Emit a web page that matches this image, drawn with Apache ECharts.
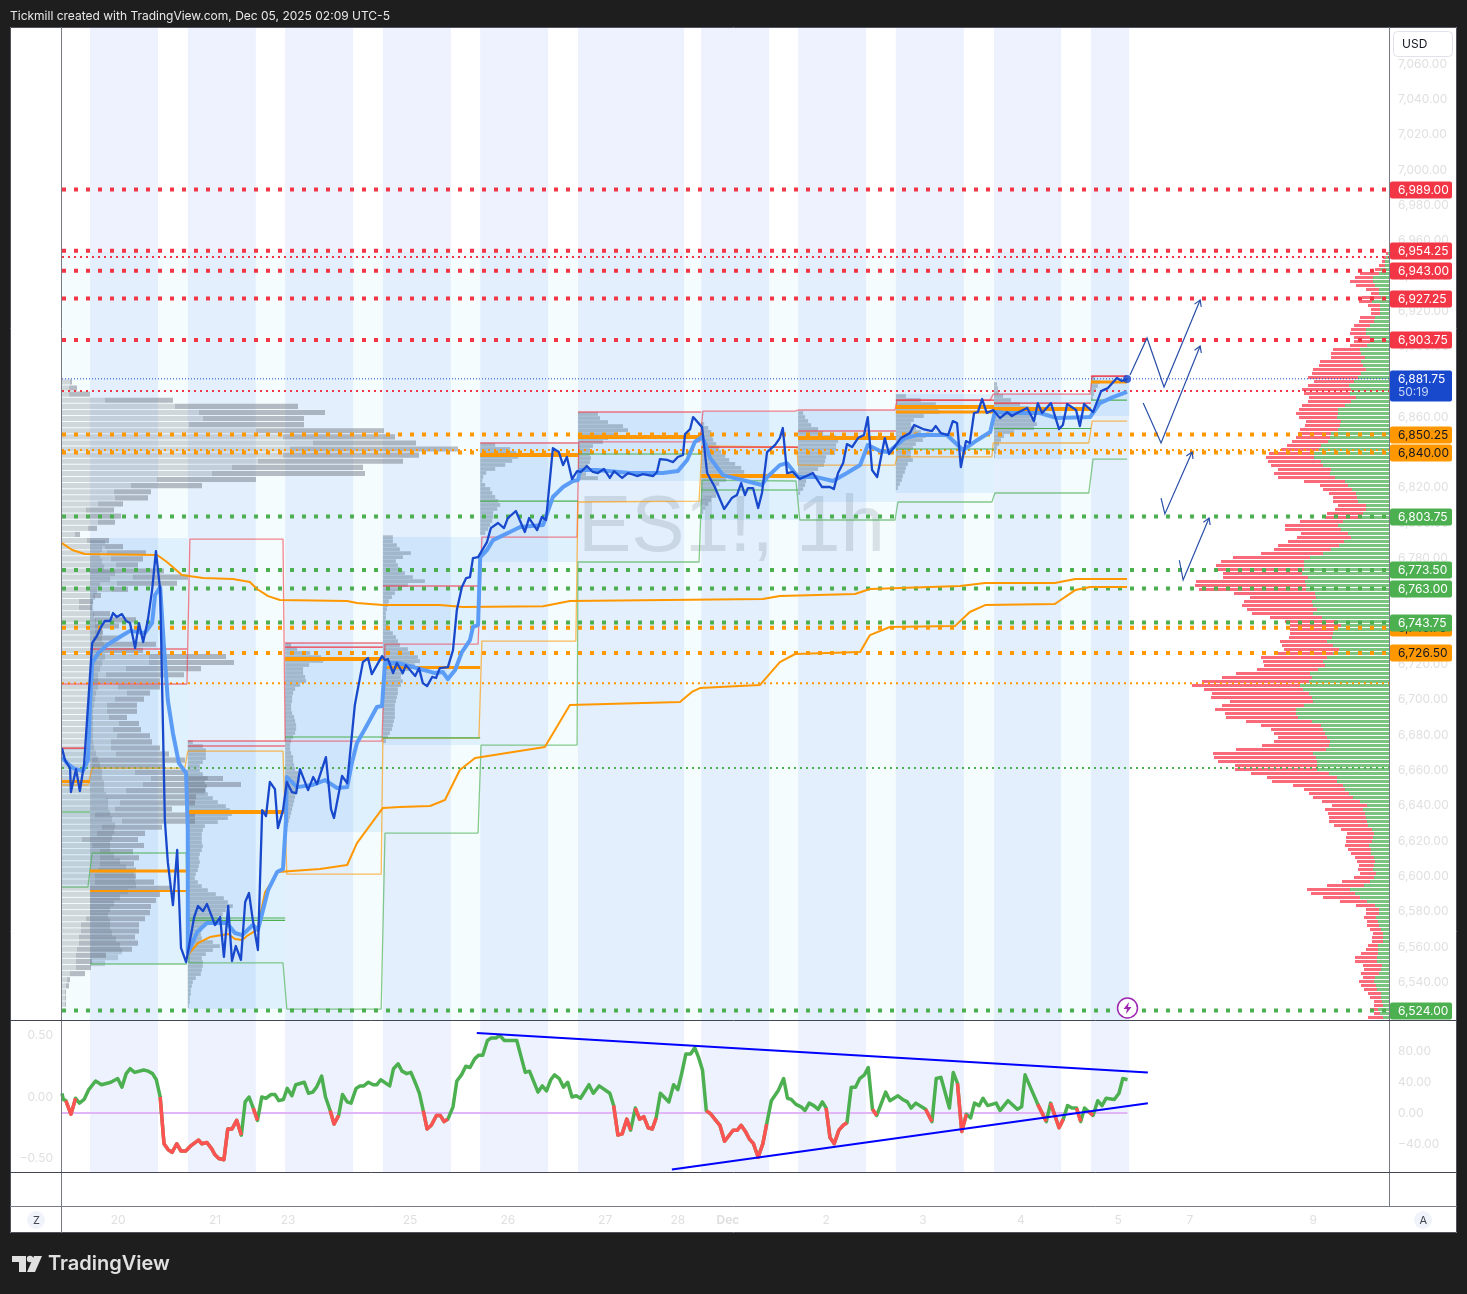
<!DOCTYPE html>
<html>
<head>
<meta charset="utf-8">
<style>
html,body{margin:0;padding:0;background:#1e1e1e;width:1467px;height:1294px;overflow:hidden}
#paper{position:absolute;left:10px;top:27px;width:1447px;height:1206px;background:#fff}
#chart{position:absolute;left:0;top:0;width:1467px;height:1294px}
</style>
<script src="https://cdn.jsdelivr.net/npm/echarts@6/dist/echarts.min.js"></script>
</head>
<body>
<div id="paper"></div>
<div id="chart"></div>
<script>
// ---------- axes ----------
const hourMax = 312.235;
const priceTop = 7081.03, priceBottom = 6518.6;
const priceTicks = [7060,7040,7020,7000,6980,6960,6940,6920,6900,6880,6860,6840,6820,6800,6780,6760,6740,6720,6700,6680,6660,6640,6620,6600,6580,6560,6540];
const dayTickHours = [13.2,36,53.2,81.9,104.9,127.8,144.9,156.7,179.8,202.6,225.6,248.5,265.4,294.4];
const dayTickNames = ['20','21','23','25','26','27','28','Dec','2','3','4','5','7','9'];
const oscLeftTicks = [0.5,0,-0.5];
const oscRightTicks = [80,40,0,-40];

// ---------- day-session shading [from,to] in hours ----------
const sessionBands = [[6.6,22.6],[29.6,45.6],[52.5,68.5],[75.5,91.5],[98.4,114.4],[121.4,146.4],[150.4,166.4],[173.2,189.2],[196.2,212.2],[219.3,235.1],[242.1,251.1]];
const washRange = [0,251.1,6953.6];
// value-area boxes [from,to,high,low]
const valueAreas = [[0,6.6,6672.6,6593.9],[6.6,29.6,6791.6,6550.3],[29.6,52.5,6676.6,6524.8],[52.5,75.5,6732.1,6625.1],[75.5,98.4,6792.1,6674.3],[98.4,121.4,6846,6778],[121.4,150.4,6863,6823.9],[150.4,173.2,6863.5,6801.8],[173.2,196.2,6864.1,6812],[196.2,219.3,6873.1,6817.1],[219.3,242.1,6873.7,6836.3],[242.1,251.1,6883.3,6860.7]];

// ---------- price ----------
const closePrice = [[0,6672.6],[.7,6665.8],[1.9,6661.3],[2.1,6647.7],[3.3,6660.7],[4.2,6648.3],[5.2,6663.6],[7.1,6732.1],[8.2,6736.1],[9.2,6741.2],[10.1,6744.6],[11.3,6744.6],[12,6749.1],[12.9,6746.8],[14.1,6748.5],[15.1,6744.6],[16,6743.4],[17.2,6729.3],[18.1,6743.4],[19.1,6732.7],[20.2,6745.1],[21.2,6762.1],[22.1,6784.2],[23.1,6762.1],[24.2,6631.8],[24.9,6608],[26.1,6583.7],[27.1,6614.9],[28,6559.4],[29.2,6551.4],[31.1,6576.9],[32,6583.2],[33.2,6580.3],[34.1,6584.3],[35.1,6578.1],[36,6572.4],[37.2,6576.9],[38.1,6554.3],[39.1,6583.2],[40,6552],[40.9,6560.5],[42.1,6552.6],[43.1,6585.4],[44,6590.5],[44.9,6575.2],[46.1,6558.2],[47.1,6637.5],[48,6634.1],[48.9,6653.4],[50.1,6649.4],[50.8,6627.3],[52,6637.5],[52.9,6653.4],[54.1,6647.7],[55.1,6647.1],[56,6660.7],[57.9,6648.8],[59.1,6656.2],[60,6652.2],[62.1,6667.5],[63.3,6638.1],[64,6633],[65.9,6656.8],[67.1,6652.8],[68.9,6697],[70.8,6721.3],[72,6723.6],[72.9,6714.5],[75.3,6724.7],[76,6722.5],[76.7,6723],[77.9,6715.1],[78.8,6720.8],[80.2,6715.1],[80.9,6719.6],[83.1,6713.4],[84,6717.9],[84.9,6709.4],[85.9,6707.7],[87.1,6712.9],[88,6712.3],[88.9,6717.9],[90.8,6718.5],[92,6728.1],[92.9,6750.8],[94.1,6763.8],[95.1,6768.9],[96,6769.5],[96.7,6780.2],[97.9,6780.8],[100,6789.3],[100.9,6797.2],[102.6,6800.1],[104,6797.2],[104.9,6802.9],[106.8,6806.9],[108.9,6795],[109.9,6802.9],[111.8,6796.1],[112.9,6803.5],[113.9,6801.8],[115.5,6842.5],[116.9,6840.3],[117.9,6832.9],[118.8,6837.5],[120,6825],[121.2,6829.5],[122.1,6829],[123.5,6832.4],[124.9,6829],[126.1,6828.4],[127.5,6830.7],[128.9,6825.6],[129.9,6829.5],[131.8,6825.6],[133.2,6828.4],[135.3,6826.7],[136.7,6827.8],[139.1,6826.7],[140,6829],[140.7,6836.3],[142.4,6835.8],[143.8,6834.6],[144.9,6837.5],[146.1,6838.6],[146.6,6850.5],[147.8,6853.3],[148.5,6860.1],[150.6,6854.4],[151.8,6828.4],[153.6,6820.5],[155.8,6808],[157.6,6814.2],[158.8,6815.9],[159.8,6822.7],[160.7,6815.9],[161.4,6819.9],[162.6,6819.9],[163.8,6808.6],[164.7,6817.1],[165.9,6840.3],[167.8,6844.3],[168.9,6848.2],[169.6,6853.9],[170.6,6828.4],[172,6829],[173.6,6825],[176.7,6828.4],[178.8,6820.5],[180.7,6820.5],[181.6,6819.3],[182.6,6828.4],[183.8,6834.1],[184.7,6844.8],[185.9,6843.1],[187.3,6848.2],[188.7,6849.9],[189.6,6860.1],[190.6,6830.1],[191.8,6826.1],[193.6,6848.2],[194.6,6839.2],[197.4,6848.2],[199.5,6851],[200.5,6855.6],[202.6,6853.3],[204.7,6852.2],[205.6,6855],[206.8,6851],[208.5,6849.9],[209.6,6857.8],[210.6,6856.7],[211.5,6831.8],[212.7,6846.5],[213.6,6845.4],[214.6,6862.4],[215.5,6862.9],[216.5,6870.3],[217.6,6862.4],[219.1,6864.1],[220.7,6859.5],[222.4,6862.9],[223.5,6860.7],[224.7,6862.4],[227.1,6865.2],[228.7,6857.8],[229.6,6868],[230.6,6862.4],[232.7,6868],[234.6,6853.3],[235.5,6855.6],[236.5,6867.5],[238.6,6864.1],[239.5,6855],[240.5,6867.5],[242.6,6862.9],[244.5,6874.8],[246.1,6876.5],[248.2,6882.2],[249.4,6880.5],[250.6,6881.6]];
const movingAverage = [[0,6667.5],[1.2,6664.1],[2.6,6661.3],[4.9,6659.6],[6.1,6665.8],[6.6,6698.1],[7.1,6720.8],[8.5,6726.4],[10.6,6731],[13.6,6735.5],[16,6739],[19.5,6737.8],[21.2,6743.4],[21.9,6759.3],[23.1,6763.8],[24,6729.8],[24.9,6699.8],[26.1,6681.1],[27.5,6664.1],[29.2,6658.5],[29.6,6626.2],[29.6,6556.5],[31.8,6568.4],[34.1,6573.5],[38.8,6573.5],[40.7,6567.9],[42.4,6566.7],[44.9,6572.4],[46.1,6569.6],[48.5,6592.2],[50.6,6602.4],[52,6604.1],[52.7,6631.8],[52.9,6656.2],[55.3,6650.5],[58.8,6651.7],[61.9,6654.5],[64.7,6650],[67.1,6650.5],[68.2,6664.1],[69.4,6675.5],[71.8,6685.7],[74.1,6695.9],[75.3,6696.4],[76,6720.8],[79.1,6720.8],[87.8,6715.1],[89.6,6715.7],[90.8,6711.7],[92.5,6716.8],[94.1,6727],[96,6733.8],[96.7,6741.2],[97.9,6742.3],[98.4,6780.8],[100,6784.8],[101.4,6790.4],[105.4,6795],[107.8,6797.8],[113.2,6799],[115.5,6814.8],[117.9,6820.5],[120.2,6823.9],[121.4,6824.4],[121.9,6830.1],[125.9,6830.1],[133.6,6828.4],[141.4,6828.4],[144.9,6829.5],[147.1,6835.8],[148.9,6846],[150.6,6848.8],[151.3,6845.4],[152.5,6836.9],[155.5,6827.2],[164.7,6821.6],[165.9,6826.1],[168.9,6832.9],[170.6,6834],[173.2,6826.1],[177.6,6826.1],[181.4,6823.9],[184.7,6828.4],[187.8,6832.9],[189.6,6844.3],[192.5,6840.9],[194.4,6840.3],[198.4,6848.2],[201.2,6849.9],[208.2,6849.9],[212,6841.4],[215.3,6847],[218.4,6851.6],[219.5,6863],[222.4,6862.4],[230.1,6862.4],[234.1,6859.5],[241.9,6860.1],[244.2,6868],[247.3,6871.4],[250.6,6874.3]];
const vwapUpper = [[0,6788.7],[2.4,6784.8],[5.4,6782.5],[22.4,6782],[24.7,6778],[28.2,6770.6],[33.2,6768.9],[40.2,6768.4],[44.2,6766.7],[45.9,6762.7],[48.5,6758.7],[51.3,6756.5],[67.1,6755.9],[69.4,6754.8],[75.5,6753.6],[88.9,6753.6],[94.4,6752.5],[113.2,6753],[119.5,6755.9],[164.9,6757],[168.9,6758.7],[186.6,6759.9],[190.1,6762.7],[211.3,6764.4],[217.2,6766.1],[233.6,6766.1],[238.4,6768.4],[250.6,6768.4]];
const vwapLower = [[29.6,6555.4],[32,6562.2],[34.8,6565.6],[39.1,6567.3],[40.7,6564.5],[42.4,6563.9],[43.8,6566.7],[45.9,6569.6],[47.8,6591.1],[50.8,6602.4],[60.7,6604.1],[67.1,6606.4],[69.4,6618.8],[72.9,6630.2],[75.5,6638.7],[79.5,6639.2],[86.6,6639.8],[90.1,6643.2],[93.6,6660.2],[97.2,6667],[113.6,6673.2],[116,6682.8],[119.5,6697],[145.4,6698.7],[148.2,6704.4],[150.1,6706.6],[164.2,6708.3],[168.9,6721.3],[172.5,6725.9],[187.8,6727],[190.1,6736.6],[194.8,6741.2],[210.1,6741.7],[213.6,6749.7],[217.2,6753.6],[233.6,6754.2],[238.4,6762.1],[241.9,6763.8],[250.6,6763.8]];

// ---------- rolling session levels ----------
const redStep = [[0,6708.9],[29.4,6708.9],[30.1,6791],[52,6791],[52.5,6676.6],[75.3,6676.6],[76,6731.5],[97.9,6731.5],[98.8,6792.1],[121.2,6792.1],[121.6,6846],[150.1,6846],[150.8,6863.5],[172.5,6863.5],[173.2,6864.1],[196,6864.1],[196.5,6869.7],[218.4,6869.7],[219.1,6873.1],[241.9,6873.1],[242.4,6883.3],[250.6,6883.3]];
const orangeStep = [[0,6651.7],[6.1,6651.7],[7.1,6661.3],[28.9,6661.3],[29.6,6670.9],[52,6670.9],[52.9,6601.2],[75.1,6601.2],[75.5,6678.3],[98.1,6678.3],[98.8,6733.2],[120.9,6733.2],[121.4,6812],[149.9,6812.5],[150.6,6843.7],[172.9,6843.1],[173.2,6832.9],[196,6832.9],[196.5,6837.5],[218.8,6837.5],[219.1,6845.4],[241.6,6845.4],[242.4,6857.8],[250.6,6857.8]];
const greenStep = [[0,6593.9],[6.1,6593.9],[7.1,6613.2],[29.2,6613.2],[29.9,6550.9],[52,6550.9],[52.9,6524.8],[75.1,6524.8],[76,6624.5],[97.9,6624.5],[98.6,6674.3],[121.2,6674.3],[121.4,6778],[149.9,6778],[150.6,6824.4],[172.7,6823.9],[173.6,6801.8],[196,6801.8],[196.7,6812],[218.8,6812],[219.5,6817.1],[241.6,6817.1],[242.6,6836.3],[250.6,6836.3]];
// fixed per-session segments [from,to,price]
const sessionHighs = [[0,6.6,6672.6],[6.6,29.4,6728.7],[29.6,52.5,6676.6],[29.6,52.5,6673.8],[52.5,75.5,6732.1],[52.5,75.5,6729.8],[75.5,98.4,6764.4],[98.4,121.4,6845.4],[121.4,150.4,6863],[150.4,173.2,6843.1],[173.2,196.2,6852.2],[196.2,219.3,6869.7],[219.3,242.1,6868],[242.1,250.6,6883.3]];
const sessionLows = [[0,6.6,6636.4],[6.6,29.4,6550.3],[29.6,52.5,6576.4],[29.6,52.5,6575],[52.5,75.5,6678.9],[75.5,98.4,6678.4],[98.4,121.4,6812.5],[121.4,150.4,6839.2],[150.4,173.2,6818.8],[196.2,219.3,6842],[219.3,242.1,6853.6],[242.1,250.6,6869.7]];
const pocSegments = [[0,6.6,6653.7],[6.6,29.4,6603],[6.6,29.4,6591.6],[29.6,52.5,6636.4],[52.5,75.5,6723],[75.5,98.4,6718.2],[98.4,121.4,6838.6],[121.4,150.4,6848.8],[150.4,173.2,6826.7],[173.2,196.2,6848.2],[196.2,219.3,6865.8],[196.2,219.3,6863],[219.3,242.1,6864.6],[242.1,250.6,6880]];
const pocWidths = [3,3,2,4,4,3,4,4,4,4,4,3,4,3];

// ---------- horizontal levels ----------
const redLevels = [6989,6954.25,6943,6927.25,6903.75];
const orangeLevels = [6850.25,6840,6740.75,6726.5];
const greenLevels = [6803.75,6773.5,6763,6743.75,6524];
const thinRedLevels = [6950.8,6874.8];
const thinOrangeLevels = [6841.4,6709.4];
const thinGreenLevels = [6661.3];
const lastPrice = 6881.75;
const tagPrices = [6989,6954.25,6943,6927.25,6903.75,6850.25,6840,6740.75,6726.5,6803.75,6773.5,6763,6743.75,6524];
const tagKinds =  [0,0,0,0,0,1,1,1,1,2,2,2,2,2];
const countdownText = '50:19';

// ---------- drawn zig-zags ----------
const zigzagA = [[251.3,6883.9],[255.3,6904.9],[259.3,6877.1],[267.8,6926.4]];
const zigzagB = [[254.4,6868],[258.6,6845.4],[267.8,6900.3]];
const zigzagC = [[258.6,6814.2],[259.5,6805.2],[265.9,6840.3]];
const zigzagD = [[262.9,6779],[263.8,6767.8],[269.9,6802.9]];

// ---------- volume profiles (relative volume) ----------
const volumeToHours = 1/4.25;
const chartProfileTop = 6880, chartProfileStep = 3.455;
const chartProfileUp = [8,7,7,43,113,137,141,127,194,221,251,228,221,196,170,150,95,69,52,53,36,24,28,36,26,13,25,43,45,49,54,28,71,55,50,31,17,17,31,33,33,33,31,31,43,87,87,64,44,31,56,65,53,45,45,47,57,51,55,49,49,54,30,30,73,89,81,64,44,58,53,33,60,40,35,20,30,38,38,38,36,33,33,28,28,28,28,28,24,19,19,17,17,15,14,14,14,8,5,4,3,3,3];
const chartProfileTotal = [10,15,28,111,236,263,242,242,322,333,354,396,357,341,301,303,194,140,89,86,61,52,59,53,35,18,47,61,84,81,76,102,126,115,66,39,31,30,48,74,57,41,57,94,81,164,172,139,122,98,98,88,82,75,75,65,77,79,88,90,98,107,123,103,126,161,179,143,134,133,110,133,133,100,83,76,82,71,77,72,74,74,92,110,98,94,89,88,83,77,77,73,76,70,44,30,29,23,8,7,4,4,4];

const rightProfileTop = 6953, rightProfileStep = 2.2655;
const rightProfileGreen = [1,3,4,4,8,10,16,16,14,10,10,8,17,9,9,9,14,15,19,23,23,19,19,22,29,28,24,28,26,23,28,31,35,40,38,39,33,38,44,51,51,52,48,49,51,58,59,61,68,70,75,75,68,66,58,59,54,44,41,37,33,32,31,23,23,26,28,46,51,48,
41,38,45,50,58,66,79,85,85,85,87,81,84,83,83,74,73,77,76,72,76,67,52,48,55,56,57,62,56,50,56,62,66,64,71,79,77,80,89,86,80,77,76,85,93,93,91,77,68,66,64,62,59,60,63,76,73,72,72,72,
60,52,52,46,44,40,36,29,22,26,24,23,22,21,17,15,16,17,20,18,18,15,14,15,16,13,15,19,25,39,34,29,22,14,10,10,13,11,10,8,6,6,6,11,11,11,12,12,7,8,10,14,15,13,12,8,8,7,6,11,9,6];
const rightProfileTotal = [3,6,7,10,14,29,34,39,33,23,18,27,30,21,18,18,29,30,35,38,39,35,35,39,56,58,58,69,70,76,77,81,75,81,87,85,80,81,87,90,93,90,83,84,89,91,93,97,102,108,120,123,121,118,111,115,111,85,69,66,60,56,56,51,54,62,64,89,104,104,
88,92,101,111,115,128,156,168,173,173,166,166,193,194,190,155,139,145,147,142,137,119,104,99,99,99,100,109,107,105,111,128,126,125,132,153,167,187,197,185,177,178,159,167,174,164,163,143,128,118,115,111,115,127,153,176,175,171,154,154,
138,122,117,96,85,80,76,67,57,64,61,60,60,55,48,42,43,43,44,41,38,34,32,30,31,29,35,47,62,82,78,66,49,33,23,23,25,22,22,19,16,17,17,21,23,28,34,34,26,25,28,26,30,28,25,21,19,15,15,19,15,21];

// session profiles
const sessionStarts = [6.6,29.6,52.5,75.5,98.4,121.4,150.4,173.2,196.2,219.3,242.1];
const sessionProfileTops = [6788.7,6676,6731,6792.1,6844.3,6861.8,6856.2,6862.4,6872,6878.8,6882.2];
const sessionProfileSteps = [3.4,2.2655,2.2655,2.2655,2.2655,2.2655,2.2655,2.2655,2.2655,2.2655,2.2655];
const profileNov20 = [15,12,10,12,14,25,20,10,7,5,3,3,4,6,10,12,12,14,15,15,12,10,8,8,8,6,5,4,3,3,3,3,3,3,4,6,8,10,12,12,14,14,16,18,18,20,22,25,24,22,20,20,24,30,36,44,45,46,38,30,24,20,18,20,20,22,26,30,32,28,15];
const profileNov21 = [5,15,18,18,18,15,12,12,15,20,17,19,18,20,25,30,38,42,44,40,30,17,15,14,14,14,15,14,12,11,12,11,10,8,7,10,14,20,28,36,40,45,38,35,30,20,15,14,13,14,25,32,25,18,14,15,15,14,13,8,5,4,3,3,2,2,1];
const profileNov23 = [6,12,25,36,38,24,18,18,20,21,15,10,8,7,7,6,6,7,9,10,11,11,10,8,6,5,5,6,8,8,9,10,13,15,15,14,12,11,10,9,8,7,6,5,4,3,2];
const profileNov25 = [10,10,14,17,28,20,13,15,17,22,30,42,25,16,12,9,6,5,4,3,3,3,5,7,10,13,15,17,25,30,35,37,32,26,20,18,20,18,15,15,14,13,12,12,12,12,11,10,9,7,5,3];
const profileNov26 = [15,30,36,38,32,25,15,6,3,2,5,10,12,15,18,20,17,13,13,12,10,8,5];
const profileNov27 = [20,22,30,45,50,40,30,25,15,12,12,13,12,10,6,8,20];
const profileDec01 = [3,7,10,11,12,15,18,20,24,28,34,40,43,35,25,18,15,15,15,10,7,4,2];
const profileDec02 = [5,7,10,13,20,25,38,40,38,38,37,28,27,26,20,15,12,8,7,5,2];
const profileDec03 = [10,25,40,42,44,28,18,15,20,25,30,27,20,17,15,15,17,12,10,9,7,6,4,2];
const profileDec04 = [3,4,5,9,17,26,35,43,36,40,43,40,20,10,7,5,3,2,1];
const profileDec05 = [4,9,7,5,3,2];
const sessionProfiles = [profileNov20,profileNov21,profileNov23,profileNov25,profileNov26,profileNov27,profileDec01,profileDec02,profileDec03,profileDec04,profileDec05];

// ---------- oscillator ----------
const oscHours = [0,.3,.9,2.1,3.2,4.1,5.2,6.3,7.9,9.3,11.5,13.1,14.1,15.1,16,17.1,19.2,20.3,21.3,22.2,23.1,24,25,25.9,27,28,29.1,30.2,32.1,32.9,34.1,35.2,36,36.9,38.1,39,40,41.1,42.2,43.1,44,45,46,47,48,49.2,50.1,51,52.1,53,54.1,55,57,58,59,59.9,61.1,62,63.1,64,65.1,66,67.1,68,69.2,70.1,71,72.1,73.2,74.1,75,77.1,78,79.1,80,81.1,82.1,83.2,84.1,85,85.9,86.9,88.1,89,89.9,90.8,92,92.9,94,95,96,97.1,98,99,100.1,101,102.1,103,104.1,107,109,110,112,113,114,115,115.9,117,118,119,120,121,122,124,125,126.4,128.9,129.8,130.8,131.8,132.9,133.8,134.9,135.9,136.9,137.9,138.9,139.8,140.8,142.8,143.9,144.9,145.8,146.8,147.9,148.9,149.8,150.7,151.6,152.7,153.6,154.8,155.9,157.9,158.9,159.8,160.8,161.7,162.7,163.8,164.9,165.8,166.9,168.5,169.8,170.7,171.6,172.7,173.9,174.8,175.8,176.9,177.9,178.9,179.8,180.7,181.7,182.8,183.8,184.7,185.7,186.7,187.7,188.8,189.7,190.7,191.7,193.8,194.8,196.7,197.8,198.9,199.8,200.9,203.2,204.7,205.7,206.8,208.8,209.7,210.7,211.7,212.8,213.8,214.7,215.8,216.7,217.8,219.8,220.7,222.6,224.8,225.8,226.6,229.6,231.6,232.6,234.6,235.6,236.6,237.6,238.7,239.7,240.6,241.6,242.6,243.7,244.7,245.7,247.6,248.7,249.6,250.7];
const oscValues = [.03,-.02,-.03,-.14,-.01,-.05,-.02,.06,.13,.1,.12,.15,.08,.19,.23,.2,.22,.21,.19,.14,0,-.38,-.43,-.45,-.38,-.44,-.44,-.4,-.35,-.38,-.37,-.42,-.47,-.5,-.51,-.26,-.26,-.19,-.31,-.04,0,-.09,-.19,0,-.01,.02,.02,-.03,-.02,.07,.01,.1,.12,.03,.04,.08,.17,0,-.11,-.22,-.15,.02,-.04,-.05,.07,.09,.09,.12,.1,.1,.14,.09,.23,.27,.21,.19,.2,.11,.03,-.11,-.26,-.23,-.15,-.15,-.2,-.18,-.08,.13,.18,.25,.24,.31,.34,.34,.46,.48,.48,.5,.46,.46,.2,.21,.04,.09,.05,.14,.18,.15,.08,.12,0,.01,-.01,.1,.03,.09,.03,-.07,-.31,-.3,-.18,-.27,-.09,-.18,-.16,-.25,-.26,-.17,.03,-.04,.1,.06,.19,.35,.35,.4,.32,.22,-.11,-.14,-.18,-.23,-.36,-.27,-.27,-.23,-.28,-.34,-.38,-.49,-.38,-.22,-.03,.05,.15,-.01,-.02,-.06,-.08,-.11,-.05,-.07,-.1,-.04,-.09,-.33,-.38,-.27,-.23,-.21,.08,.08,.15,.18,.24,-.1,-.15,.04,-.03,.01,-.02,-.04,-.09,-.05,-.1,-.2,.15,.16,-.09,.2,.11,-.28,-.14,-.17,-.05,-.07,-.01,-.07,-.05,-.11,-.03,-.1,-.08,.18,-.06,-.2,-.05,-.25,-.18,-.07,-.09,-.09,-.2,-.09,-.12,-.15,-.03,-.07,-.01,-.02,.03,.15,.14];
// hour ranges where the oscillator line is red
const oscRedRanges = [[.9,3.2],[23.1,42.2],[45,46],[63.1,65.1],[85,90.8],[129.8,133.8],[134.9,139.8],[151.6,165.8],[179.8,184.7],[190.7,191.7],[203.2,204.7],[210.7,212.8],[229.6,231.6],[232.6,235.6],[238.7,239.7],[241.6,242.6]];
const oscBaselineRight = 0;
const oscTrendUpper = [[97.6,.52],[255.5,.2]];
const oscTrendLower = [[143.5,-.59],[255.5,-.05]];

// ---------- colours ----------
const RED='#f23645', ORANGE='#ff9800', GREEN='#4caf50', BLUE='#1848cc', FONT='Inter, "Liberation Sans", sans-serif';
const tagColor=[RED,ORANGE,GREEN], tagText=['#fff','#131722','#fff'];

// ---------- helpers ----------
const series=[];
const fmt=v=>v.toLocaleString('en-US',{minimumFractionDigits:2,maximumFractionDigits:2}).replace('-','\u2212');
function lineS(data,color,width,z,opt){
  series.push(Object.assign({type:'line',data,showSymbol:false,symbol:'none',silent:true,animation:false,z,
    xAxisIndex:0,yAxisIndex:0,lineStyle:{color,width,cap:'butt',join:'round'},connectNulls:false},opt||{}));
}
function levels(list,color,width,dash,z,op){
  list.forEach(p=>lineS([[0,p],[hourMax,p]],color,width,z,{lineStyle:{color,width,type:dash,opacity:op||1,cap:'butt'}}));
}
function segs(list,color,z,widths,op){
  list.forEach((s,i)=>lineS([[s[0],s[2]],[s[1],s[2]]],color,widths?widths[i]:1.1,z,{lineStyle:{color,width:widths?widths[i]:1.1,opacity:op||1,cap:'butt'}}));
}
function customS(data,renderItem,z,ax){
  ax=ax||0;
  series.push({type:'custom',data,renderItem,silent:true,animation:false,z,clip:false,xAxisIndex:ax,yAxisIndex:ax,
    encode:{x:0,y:1}});
}
function bandsFor(ax,fill){
  customS(sessionBands,(p,api)=>{
    const a=api.coord([api.value(0),0]),b=api.coord([api.value(1),0]),c=p.coordSys;
    return {type:'rect',shape:{x:a[0],y:c.y,width:b[0]-a[0],height:c.height},style:{fill}};
  },1,ax);
}
function barRows(rows,fill,z,gap,snap){
  // rows: [hourFrom, hourTo, price, rowHeightInPrice]
  customS(rows,(p,api)=>{
    const a=api.coord([api.value(0),api.value(2)]),b=api.coord([api.value(1),api.value(2)]);
    let h=Math.max(.8,api.size([0,api.value(3)])[1]-gap),y=a[1]-h/2;
    if(snap){y=Math.round(y);h=Math.round(h);}
    return {type:'rect',shape:{x:a[0],y,width:b[0]-a[0],height:h},style:{fill}};
  },z);
}

// ---------- shading ----------
bandsFor(0,'#eef2fe');
bandsFor(1,'#eef2fe');
customS([washRange],(p,api)=>{
  const a=api.coord([api.value(0),api.value(2)]),b=api.coord([api.value(1),api.value(2)]),c=p.coordSys;
  return {type:'rect',shape:{x:a[0],y:a[1],width:b[0]-a[0],height:c.y+c.height-a[1]},style:{fill:'rgba(60,200,225,.055)'}};
},1);
customS(valueAreas,(p,api)=>{
  const a=api.coord([api.value(0),api.value(2)]),b=api.coord([api.value(1),api.value(3)]);
  return {type:'rect',shape:{x:a[0],y:a[1],width:b[0]-a[0],height:b[1]-a[1]},style:{fill:'rgba(33,150,243,.1)'}};
},1);

// ---------- profiles ----------
const chartUpRows=[],chartDownRows=[];
chartProfileTotal.forEach((t,i)=>{
  const pr=chartProfileTop-i*chartProfileStep,u=chartProfileUp[i];
  chartUpRows.push([0,u*volumeToHours,pr,chartProfileStep]);
  chartDownRows.push([u*volumeToHours,t*volumeToHours,pr,chartProfileStep]);
});
barRows(chartUpRows,'rgba(120,128,140,.3)',3,1);
barRows(chartDownRows,'rgba(110,118,130,.48)',3,1);
sessionProfiles.forEach((w,k)=>{
  barRows(w.map((v,i)=>[sessionStarts[k],sessionStarts[k]+v*volumeToHours,sessionProfileTops[k]-i*sessionProfileSteps[k],sessionProfileSteps[k]]),k===0?'rgba(100,118,135,.28)':'rgba(100,118,135,.42)',3,.3);
});
const rGreen=[],rRed=[];
rightProfileTotal.forEach((t,i)=>{
  const pr=rightProfileTop-i*rightProfileStep,g=rightProfileGreen[i];
  rGreen.push([hourMax-g*volumeToHours,hourMax,pr,rightProfileStep]);
  rRed.push([hourMax-t*volumeToHours,hourMax-g*volumeToHours,pr,rightProfileStep]);
});
barRows(rGreen,'#7bc47f',3,1,true);
barRows(rRed,'#f96a7a',3,1,true);

// ---------- levels ----------
levels(redLevels,RED,4,[4,8],4);
levels(orangeLevels,ORANGE,4,[4,8],4);
levels(greenLevels,GREEN,4,[4,8],4);
levels(thinRedLevels,RED,2,[2,4],4);
levels(thinOrangeLevels,ORANGE,2,[2,4],4);
levels(thinGreenLevels,GREEN,2,[2,4],4);
levels([lastPrice],BLUE,1,[1,2],4);

// ---------- session lines ----------
lineS(redStep,RED,1.3,5,{lineStyle:{color:RED,width:1.3,opacity:.6}});
lineS(orangeStep,ORANGE,1.3,5,{lineStyle:{color:ORANGE,width:1.3,opacity:.65}});
lineS(greenStep,GREEN,1.3,5,{lineStyle:{color:GREEN,width:1.3,opacity:.65}});
segs(sessionHighs,RED,5);
segs(sessionLows,GREEN,5);
segs(pocSegments,ORANGE,5,pocWidths);
lineS(vwapUpper,ORANGE,2,5);
lineS(vwapLower,ORANGE,2,5);
lineS(movingAverage,'#5b9cf6',4,6);
lineS(closePrice,BLUE,2.3,7);
series.push({type:'scatter',data:[closePrice[closePrice.length-1]],symbolSize:8,itemStyle:{color:BLUE},z:7,silent:true,animation:false,xAxisIndex:0,yAxisIndex:0});

// ---------- zig-zag drawings ----------
[zigzagA,zigzagB,zigzagC,zigzagD].forEach(zz=>{
  customS(zz,(p,api)=>{
    if(p.dataIndex!==0) return null;
    const pts=zz.map(q=>api.coord(q));
    const m=pts[pts.length-1],n=pts[pts.length-2],ang=Math.atan2(m[1]-n[1],m[0]-n[0]),L=7;
    const h1=[m[0]-L*Math.cos(ang-.55),m[1]-L*Math.sin(ang-.55)],h2=[m[0]-L*Math.cos(ang+.55),m[1]-L*Math.sin(ang+.55)];
    const st={stroke:'#2a4fa8',lineWidth:1.2,fill:null};
    return {type:'group',children:[
      {type:'polyline',shape:{points:pts},style:st},
      {type:'polyline',shape:{points:[h1,m,h2]},style:st}]};
  },6);
});

// ---------- price tags ----------
const tagRows=tagPrices.map((p,i)=>[p,tagKinds[i]]);
customS(tagRows,(p,api)=>{
  const c=api.coord([hourMax,api.value(0)]),k=api.value(1),px=Math.floor(c[1]);
  return {type:'group',children:[
    {type:'rect',shape:{x:c[0]+1,y:px-7.5,width:62,height:17,r:2},style:{fill:tagColor[k]}},
    {type:'text',style:{text:fmt(api.value(0)),x:c[0]+9,y:px+1,fill:tagText[k],font:'12px '+FONT,textAlign:'left',textVerticalAlign:'middle'}}
  ]};
},8);
customS([[lastPrice,0]],(p,api)=>{
  const c=api.coord([hourMax,api.value(0)]),px=Math.floor(c[1]);
  return {type:'group',children:[
    {type:'rect',shape:{x:c[0]+1,y:px-7.5,width:62,height:31,r:2},style:{fill:BLUE}},
    {type:'text',style:{text:fmt(api.value(0)),x:c[0]+9,y:px+1,fill:'#fff',font:'12px '+FONT,textVerticalAlign:'middle'}},
    {type:'text',style:{text:countdownText,x:c[0]+9,y:px+14,fill:'#c6d2f5',font:'12px '+FONT,textVerticalAlign:'middle'}}
  ]};
},9);

// ---------- oscillator ----------
const oscPoints=oscHours.map((h,i)=>[h,oscValues[i]]);
const oscOpt={xAxisIndex:1,yAxisIndex:1};
lineS([[0,oscBaselineRight],[250.7,oscBaselineRight]],'#e1b5f7',2,3,{xAxisIndex:1,yAxisIndex:2});
lineS(oscPoints,GREEN,3.5,4,oscOpt);
const oscRed=[];
oscRedRanges.forEach(r=>{
  oscPoints.filter(q=>q[0]>=r[0]&&q[0]<=r[1]).forEach(q=>oscRed.push(q));
  oscRed.push([r[1]+.01,null]);
});
lineS(oscRed,'#ff5252',3.5,5,oscOpt);
lineS(oscTrendUpper,'#0000ff',2,6,oscOpt);
lineS(oscTrendLower,'#0000ff',2,6,oscOpt);

// ---------- chrome ----------
const GREY='#e0e0e0';
function vLine(x,y1,y2,c){return {type:'line',z:20,shape:{x1:x,y1,x2:x,y2},style:{stroke:c,lineWidth:1}};}
function hLine(y,c){return {type:'line',z:20,shape:{x1:10,y1:y,x2:1457,y2:y},style:{stroke:c,lineWidth:1}};}
const graphics=[
 {type:'text',z:2,left:578,top:489,style:{text:'ES1!, 1h',font:'80px "Liberation Sans", sans-serif',fill:'rgba(90,110,135,.19)'}},
 {type:'text',z:20,left:10,top:10,style:{text:'Tickmill created with TradingView.com, Dec 05, 2025 02:09 UTC-5',font:'12px '+FONT,fill:'#e8e8e8'}},
 {type:'polygon',z:20,shape:{points:[[12,1256],[26,1256],[26,1272],[19,1272],[19,1262],[12,1262]]},style:{fill:'#e0e0e0'}},
 {type:'circle',z:20,shape:{cx:30,cy:1259,r:3.2},style:{fill:'#e0e0e0'}},
 {type:'polygon',z:20,shape:{points:[[34,1256],[42,1256],[35,1272],[27,1272]]},style:{fill:'#e0e0e0'}},
 {type:'text',z:20,left:48,top:1254,style:{text:'TradingView',font:'600 20px '+FONT,fill:'#e0e0e0'}},
 {type:'rect',z:20,shape:{x:10.5,y:27.5,width:1446,height:1205},style:{stroke:'#50535e',fill:null,lineWidth:1}},
 vLine(61.5,27,1233,'#787b86'),
 vLine(1389.5,27,1206,'#787b86'),
 hLine(1020.5,'#434651'),hLine(1172.5,'#434651'),hLine(1206.5,'#787b86'),
 {type:'rect',z:20,shape:{x:1393.5,y:31.5,width:59,height:25,r:4},style:{stroke:'#e0e3eb',fill:'#fff',lineWidth:1}},
 {type:'text',z:21,left:1402,top:38,style:{text:'USD',font:'12px '+FONT,fill:'#131722'}},
 {type:'circle',z:20,shape:{cx:36,cy:1220,r:9},style:{fill:'#f0f3fa'}},
 {type:'text',z:21,left:33,top:1215,style:{text:'Z',font:'11px '+FONT,fill:'#434651'}},
 {type:'circle',z:20,shape:{cx:1423,cy:1220,r:9},style:{fill:'#f0f3fa'}},
 {type:'text',z:21,left:1419.5,top:1215,style:{text:'A',font:'11px '+FONT,fill:'#434651'}},
 {type:'circle',z:20,shape:{cx:1127.5,cy:1008,r:10},style:{fill:'#fff',stroke:'#9c27b0',lineWidth:1.5}},
 {type:'polygon',z:21,shape:{points:[[1129,1002],[1123.5,1009],[1127,1009],[1126,1014],[1131.5,1007],[1128,1007]]},style:{fill:'#9c27b0'}}
];

const chart=echarts.init(document.getElementById('chart'),null,{renderer:'canvas'});
chart.setOption({
  animation:false,
  backgroundColor:'transparent',
  textStyle:{fontFamily:FONT},
  grid:[
    {left:62,top:27,width:1327,height:993,containLabel:false},
    {left:62,top:1021,width:1327,height:151,containLabel:false}
  ],
  xAxis:[
    {type:'value',gridIndex:0,min:0,max:hourMax,show:false,splitLine:{show:false}},
    {type:'value',gridIndex:1,min:0,max:hourMax,splitLine:{show:false},axisLine:{show:false},axisTick:{show:false},
     axisLabel:{customValues:dayTickHours,margin:42,color:GREY,fontSize:12,fontFamily:FONT,
       formatter:v=>{const n=dayTickNames[dayTickHours.indexOf(v)];return n==='Dec'?'{b|Dec}':n;},
       rich:{b:{fontWeight:'bold',color:GREY,fontSize:12,fontFamily:FONT}}}}
  ],
  yAxis:[
    {type:'value',gridIndex:0,position:'right',min:priceBottom,max:priceTop,splitLine:{show:false},axisLine:{show:false},axisTick:{show:false},
     axisLabel:{customValues:priceTicks,margin:9,color:GREY,fontSize:12,fontFamily:FONT,padding:[2,0,0,0],formatter:fmt}},
    {type:'value',gridIndex:1,position:'left',min:-.61,max:.618,splitLine:{show:false},axisLine:{show:false},axisTick:{show:false},
     axisLabel:{customValues:oscLeftTicks,margin:9,color:GREY,fontSize:12,fontFamily:FONT,padding:[3,0,0,0],formatter:fmt}},
    {type:'value',gridIndex:1,position:'right',min:-76.1,max:118.7,splitLine:{show:false},axisLine:{show:false},axisTick:{show:false},
     axisLabel:{customValues:oscRightTicks,margin:9,color:GREY,fontSize:12,fontFamily:FONT,padding:[3,0,0,0],formatter:fmt}}
  ],
  series,
  graphic:{elements:graphics}
});
</script>
</body>
</html>
